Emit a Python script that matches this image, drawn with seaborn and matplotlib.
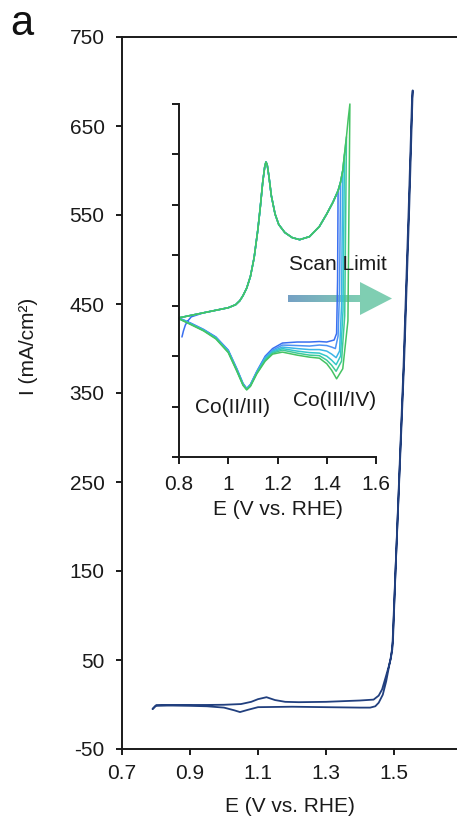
import numpy as np
import pandas as pd
import matplotlib
matplotlib.use("Agg")
import matplotlib.pyplot as plt
import seaborn as sns
from matplotlib.patches import Polygon

# ---------------- data ----------------
# main CV (forward then return sweep)
MAIN_FWD_E = [0.790, 0.800, 0.85, 0.90, 0.95, 1.00, 1.05, 1.08, 1.10, 1.125, 1.15, 1.18, 1.22,
              1.30, 1.40, 1.44, 1.455, 1.465, 1.475, 1.484, 1.491, 1.497, 1.505, 1.515, 1.53,
              1.545, 1.555]
MAIN_FWD_I = [-5.0, -1.0, -0.5, -0.5, -0.5, -0.3, 0.5, 3.0, 6.0, 8.2, 5.0, 3.0, 2.6,
              3.0, 4.5, 5.5, 10.0, 17.0, 30.0, 42.0, 52.0, 72.0, 155.0, 248.0, 387.0,
              560.0, 690.0]
MAIN_REV_E = [1.553, 1.543, 1.528, 1.508, 1.495, 1.486, 1.477, 1.467, 1.455, 1.445, 1.43,
              1.40, 1.30, 1.20, 1.10, 1.07, 1.047, 1.03, 1.00, 0.95, 0.90, 0.85, 0.80, 0.79]
MAIN_REV_I = [680.0, 555.0, 380.0, 185.0, 62.0, 44.0, 26.0, 11.0, 2.0, -2.0, -3.5,
              -3.5, -3.0, -2.5, -3.0, -6.0, -8.5, -6.5, -3.5, -2.0, -1.5, -1.2, -1.2, -5.0]

# inset: common anodic (forward) branch
IN_FWD_E = [0.800, 0.85, 0.90, 0.95, 1.00, 1.03, 1.047, 1.06, 1.075, 1.09, 1.105, 1.12, 1.13,
            1.14, 1.148, 1.153, 1.158, 1.165, 1.175, 1.19, 1.205, 1.23, 1.26, 1.29, 1.33, 1.37,
            1.40, 1.425, 1.446, 1.456, 1.465, 1.472, 1.480, 1.487, 1.494]
IN_FWD_I = [-0.024, -0.019, -0.014, -0.009, -0.004, 0.002, 0.010, 0.020, 0.035, 0.058, 0.095,
            0.150, 0.195, 0.245, 0.275, 0.285, 0.280, 0.257, 0.218, 0.182, 0.161, 0.145, 0.135,
            0.131, 0.137, 0.157, 0.182, 0.205, 0.228, 0.245, 0.268, 0.300, 0.335, 0.370, 0.400]
# first scan starting hook
IN_START_E = [0.812, 0.818, 0.826, 0.836, 0.85]
IN_START_I = [-0.062, -0.050, -0.038, -0.030, -0.022]

IN_LIMIT_E = [1.446, 1.456, 1.465, 1.472, 1.480, 1.494]

TAIL_E = [1.116, 1.09, 1.075, 1.06, 1.035, 1.00, 0.95, 0.90, 0.85, 0.80]

REV_E = [
    [1.446, 1.444, 1.440, 1.43, 1.40, 1.37, 1.33, 1.28, 1.22, 1.18, 1.15],
    [1.456, 1.452, 1.446, 1.435, 1.42, 1.40, 1.37, 1.33, 1.28, 1.22, 1.18, 1.15],
    [1.465, 1.460, 1.452, 1.438, 1.42, 1.40, 1.37, 1.33, 1.28, 1.22, 1.18, 1.15],
    [1.472, 1.466, 1.456, 1.438, 1.42, 1.40, 1.37, 1.33, 1.28, 1.22, 1.18, 1.15],
    [1.480, 1.473, 1.460, 1.438, 1.42, 1.40, 1.37, 1.33, 1.28, 1.22, 1.18, 1.15],
    [1.494, 1.486, 1.465, 1.440, 1.42, 1.40, 1.37, 1.33, 1.28, 1.22, 1.18, 1.15],
]
REV_I = [
    [0.228, 0.05, -0.055, -0.068, -0.072, -0.071, -0.072, -0.072, -0.074, -0.085, -0.100],
    [0.245, 0.03, -0.060, -0.085, -0.082, -0.079, -0.078, -0.080, -0.079, -0.078, -0.088, -0.102],
    [0.268, 0.00, -0.090, -0.103, -0.096, -0.090, -0.087, -0.087, -0.085, -0.082, -0.090, -0.104],
    [0.300, -0.01, -0.100, -0.117, -0.108, -0.100, -0.094, -0.093, -0.090, -0.085, -0.092, -0.106],
    [0.335, -0.02, -0.110, -0.130, -0.118, -0.108, -0.099, -0.098, -0.094, -0.088, -0.094, -0.108],
    [0.400, -0.03, -0.125, -0.145, -0.128, -0.115, -0.104, -0.102, -0.098, -0.092, -0.096, -0.110],
]
TAIL_I = [
    [-0.130, -0.156, -0.164, -0.154, -0.125, -0.088, -0.062, -0.047, -0.035, -0.024],
    [-0.131, -0.157, -0.165, -0.155, -0.126, -0.089, -0.063, -0.048, -0.036, -0.025],
    [-0.132, -0.158, -0.165, -0.156, -0.127, -0.090, -0.064, -0.048, -0.036, -0.025],
    [-0.133, -0.158, -0.166, -0.156, -0.128, -0.091, -0.064, -0.049, -0.037, -0.025],
    [-0.134, -0.159, -0.166, -0.157, -0.129, -0.092, -0.065, -0.049, -0.037, -0.026],
    [-0.135, -0.160, -0.167, -0.158, -0.130, -0.093, -0.066, -0.050, -0.038, -0.026],
]
SCAN_COLORS = ['#3a6ff0', '#4d92f2', '#3bb5e6', '#33c7c9', '#3dca98', '#45c363']

MAIN_XTICKS = [0.7, 0.9, 1.1, 1.3, 1.5]
MAIN_YTICKS = [-50, 50, 150, 250, 350, 450, 550, 650, 750]
IN_XTICKS = [0.8, 1.0, 1.2, 1.4, 1.6]
IN_XTICKLABELS = ['0.8', '1', '1.2', '1.4', '1.6']
IN_YTICKS = [-0.3, -0.2, -0.1, 0.0, 0.1, 0.2, 0.3, 0.4]

# ---------------- style ----------------
sns.set_style('ticks')
plt.rcParams['font.family'] = ['Liberation Sans', 'DejaVu Sans']
plt.rcParams['axes.linewidth'] = 1.4
plt.rcParams['xtick.major.width'] = 1.4
plt.rcParams['ytick.major.width'] = 1.4
plt.rcParams['xtick.color'] = '#1a1a1a'
plt.rcParams['ytick.color'] = '#1a1a1a'

W, H = 457, 825
fig = plt.figure(figsize=(W / 100, H / 100), dpi=100)

def fx(px):
    return px / W

def fy(py):
    return 1 - py / H

# main axes
ax = fig.add_axes([fx(122), fy(749), fx(457) - fx(122), fy(37) - fy(749)])
ax.set_facecolor('none')
main_df = pd.DataFrame({
    'E': MAIN_FWD_E + MAIN_REV_E,
    'I': MAIN_FWD_I + MAIN_REV_I,
})
sns.lineplot(data=main_df, x='E', y='I', sort=False, estimator=None,
             color='#213f7e', lw=1.3, ax=ax)
ax.set_xlim(0.7, 0.7 + (457 - 122) / 340)
ax.set_ylim(-50, 750)
ax.set_xticks(MAIN_XTICKS)
ax.set_xticklabels([f'{v:.1f}' for v in MAIN_XTICKS])
ax.set_yticks(MAIN_YTICKS)
ax.set_yticklabels([str(v) for v in MAIN_YTICKS])
ax.tick_params(axis='both', labelsize=15, length=4.5, direction='out')
ax.tick_params(axis='y', pad=8)
ax.tick_params(axis='x', pad=6)
ax.spines['right'].set_visible(False)
ax.spines['top'].set_visible(True)
ax.set_xlabel('')
ax.set_ylabel('')
for s in ax.spines.values():
    s.set_color('#1a1a1a')

fig.text(fx(290), fy(807), 'E (V vs. RHE)', ha='center', va='center', fontsize=15, color='#1a1a1a')
fig.text(fx(28), fy(346), 'I (mA/cm²)', ha='center', va='center', rotation=90, fontsize=15, color='#1a1a1a')
fig.text(fx(10), fy(35), 'a', ha='left', va='baseline', fontsize=30, color='#111111')

# arrow overlay (gradient)
ov = fig.add_axes([0, 0, 1, 1], zorder=1)
ov.set_xlim(0, W)
ov.set_ylim(H, 0)
ov.axis('off')
ov.patch.set_alpha(0)
pts = [(288, 295), (360, 295), (360, 282), (392, 298.5), (360, 315), (360, 302), (288, 302)]
poly = Polygon(pts, closed=True, facecolor='none', edgecolor='none')
ov.add_patch(poly)
c0 = np.array([0.46, 0.63, 0.77])
c1 = np.array([0.50, 0.81, 0.70])
t = np.linspace(0, 1, 256)
t = np.clip(t * 1.4, 0, 1)
grad = (c0[None, :] * (1 - t[:, None]) + c1[None, :] * t[:, None])[None, :, :]
im = ov.imshow(grad, extent=[288, 392, 315, 282], aspect='auto', interpolation='bilinear')
im.set_clip_path(poly)
ov.set_xlim(0, W)
ov.set_ylim(H, 0)

# inset axes
axin = fig.add_axes([fx(179), fy(457), fx(376) - fx(179), fy(104) - fy(457)], zorder=2)
axin.set_facecolor('none')
for k in range(6):
    lim = IN_LIMIT_E[k]
    fe = [e for e in IN_FWD_E if e <= lim]
    fi = IN_FWD_I[:len(fe)]
    if k == 0:
        fe = IN_START_E + [e for e in fe if e > 0.85]
        fi = IN_START_I + fi[len(fi) - (len(fe) - len(IN_START_E)):]
    E = fe + REV_E[k] + TAIL_E
    I = fi + REV_I[k] + TAIL_I[k]
    df = pd.DataFrame({'E': E, 'I': I})
    sns.lineplot(data=df, x='E', y='I', sort=False, estimator=None,
                 color=SCAN_COLORS[k], lw=1.1, ax=axin)
    axin.lines[-1].set_clip_on(False)
axin.set_xlim(0.8, 1.6)
axin.set_ylim(-0.3, 0.4)
axin.set_xticks(IN_XTICKS)
axin.set_xticklabels(IN_XTICKLABELS)
axin.set_yticks(IN_YTICKS)
axin.set_yticklabels([])
axin.tick_params(axis='both', labelsize=15, length=5, direction='out')
axin.tick_params(axis='x', pad=8)
axin.spines['top'].set_visible(False)
axin.spines['right'].set_visible(False)
for s in axin.spines.values():
    s.set_color('#1a1a1a')
axin.set_xlabel('E (V vs. RHE)', fontsize=15, color='#1a1a1a', labelpad=4)
axin.set_ylabel('')

fig.text(fx(232), fy(407), 'Co(II/III)', ha='center', va='center', fontsize=15, color='#1a1a1a', zorder=3)
fig.text(fx(335), fy(400), 'Co(III/IV)', ha='center', va='center', fontsize=15, color='#1a1a1a', zorder=3)
fig.text(fx(337.5), fy(264), 'Scan Limit', ha='center', va='center', fontsize=15, color='#1a1a1a', zorder=3)

fig.savefig('out.png', dpi=100)
